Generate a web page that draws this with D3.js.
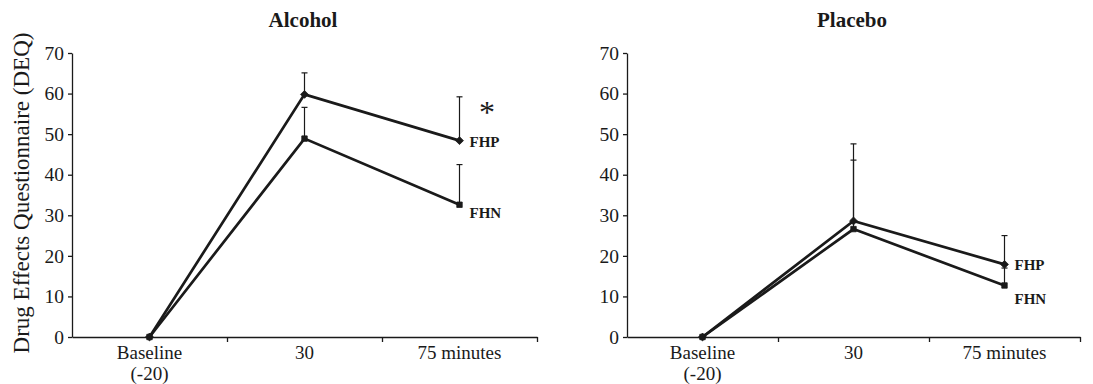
<!DOCTYPE html>
<html>
<head>
<meta charset="utf-8">
<script src="https://cdn.jsdelivr.net/npm/d3@7"></script>
<style>
  body { margin: 0; background: #fff; }
  svg { display: block; }
  svg text { font-family: "Liberation Serif", "Times New Roman", serif; }
</style>
</head>
<body>
<svg id="chart" width="1093" height="384"></svg>
<script>
// data
const categories = ["Baseline", "30", "75 minutes"];
const categorySub = ["(-20)", "", ""];
const yTicks = [0, 10, 20, 30, 40, 50, 60, 70];

const alcoholFHP = [0, 59.8, 48.4];
const alcoholFHPUpper = [null, 65.1, 59.2];
const alcoholFHN = [0, 48.9, 32.6];
const alcoholFHNUpper = [null, 56.6, 42.5];

const placeboFHP = [0, 28.6, 17.9];
const placeboFHPUpper = [null, 47.6, 25.0];
const placeboFHN = [0, 26.6, 12.7];
const placeboFHNUpper = [null, 43.6, 17.0];

const ink = "#1a1a1a";
const serif = "'Liberation Serif', 'Times New Roman', serif";
const svg = d3.select("#chart");

const y = d3.scaleLinear().domain([0, 70]).range([337, 53]);

function panel(opts) {
    const g = svg.append("g");
    const x = d3.scaleBand()
        .domain(categories)
        .range([opts.x0, opts.x0 + 3 * opts.band]);
    const xb = d3.scaleLinear().domain([0, 3]).range(x.range());

    // title
    g.append("text")
        .attr("x", opts.titleX)
        .attr("y", 27)
        .attr("text-anchor", "middle")
        .attr("font-weight", "bold")
        .attr("font-size", 21)
        .attr("fill", ink)
        .text(opts.title);

    // y axis
    const yAxis = g.append("g")
        .attr("transform", `translate(${opts.x0},0)`)
        .call(d3.axisLeft(y).tickValues(yTicks).tickSize(4).tickSizeOuter(0).tickPadding(4));
    yAxis.attr("font-family", serif);
    yAxis.selectAll("text").attr("font-size", 19.5).attr("fill", ink);

    // x axis: boundary ticks only
    const xAxis = g.append("g")
        .attr("transform", `translate(0,${y(0)})`)
        .call(d3.axisBottom(xb).tickValues([1, 2, 3]).tickFormat("").tickSize(5).tickSizeOuter(0));

    [yAxis, xAxis].forEach(a => {
        a.select(".domain").attr("stroke", ink).attr("stroke-width", 1.3);
        a.selectAll(".tick line").attr("stroke", ink).attr("stroke-width", 1.3);
    });

    // category labels
    const lab = g.append("g").attr("font-size", 19).attr("fill", ink).attr("text-anchor", "middle");
    categories.forEach((c, i) => {
        const cx = x(c) + x.bandwidth() / 2;
        lab.append("text").attr("x", cx).attr("y", 359).text(c);
        if (categorySub[i]) lab.append("text").attr("x", cx).attr("y", 380).text(categorySub[i]);
    });

    const px = i => x(categories[i]) + x.bandwidth() / 2;
    const line = d3.line().x((d, i) => px(i)).y(d => y(d));

    // error bars (upper only)
    opts.series.forEach(s => {
        const eb = g.append("g").attr("stroke", ink).attr("stroke-width", 1.2);
        s.upper.forEach((u, i) => {
            if (u == null) return;
            eb.append("line").attr("x1", px(i)).attr("x2", px(i)).attr("y1", y(s.values[i])).attr("y2", y(u));
            eb.append("line").attr("x1", px(i) - 3).attr("x2", px(i) + 3).attr("y1", y(u)).attr("y2", y(u));
        });
    });

    opts.series.forEach(s => {
        g.append("path")
            .datum(s.values)
            .attr("d", line)
            .attr("fill", "none")
            .attr("stroke", ink)
            .attr("stroke-width", 2.7);

        const sym = d3.symbol().type(s.marker === "diamond" ? d3.symbolDiamond2 : d3.symbolSquare2)
            .size(s.marker === "diamond" ? 40 : 38);
        g.selectAll(null)
            .data(s.values)
            .enter().append("path")
            .attr("transform", (d, i) => `translate(${px(i)},${y(d)})`)
            .attr("d", sym)
            .attr("fill", ink)
            .attr("stroke", ink)
            .attr("stroke-width", 0.8);

        g.append("text")
            .attr("x", px(2) + s.labelDx)
            .attr("y", y(s.values[2]) + s.labelDy)
            .attr("font-size", 15)
            .attr("font-weight", "bold")
            .attr("fill", ink)
            .text(s.name);
    });

    if (opts.star) {
        g.append("text")
            .attr("x", opts.star.x)
            .attr("y", opts.star.y)
            .attr("text-anchor", "middle")
            .attr("font-size", 32)
            .attr("fill", ink)
            .text("*");
    }
}

panel({
    title: "Alcohol", titleX: 303, x0: 72, band: 155,
    series: [
        { name: "FHP", values: alcoholFHP, upper: alcoholFHPUpper, marker: "diamond", labelDx: 10, labelDy: 6 },
        { name: "FHN", values: alcoholFHN, upper: alcoholFHNUpper, marker: "square", labelDx: 10, labelDy: 13 }
    ],
    star: { x: 487, y: 123 }
});

panel({
    title: "Placebo", titleX: 852, x0: 627, band: 151,
    series: [
        { name: "FHP", values: placeboFHP, upper: placeboFHPUpper, marker: "diamond", labelDx: 10, labelDy: 6 },
        { name: "FHN", values: placeboFHN, upper: placeboFHNUpper, marker: "square", labelDx: 10, labelDy: 19 }
    ]
});

// shared y axis title
svg.append("text")
    .attr("transform", "translate(29,193) rotate(-90)")
    .attr("text-anchor", "middle")
    .attr("font-size", 23)
    .attr("fill", ink)
    .text("Drug Effects Questionnaire (DEQ)");
</script>
</body>
</html>
